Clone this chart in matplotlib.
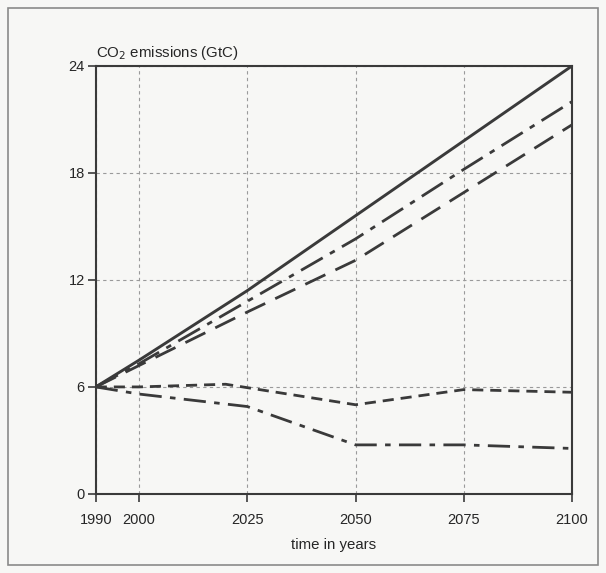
import matplotlib
matplotlib.use('Agg')
import matplotlib.pyplot as plt
from matplotlib.patches import Rectangle

# scenario paths (GtC per year)
years_main = [1990, 2000, 2025, 2050, 2075, 2100]
solid = [6.0, 7.5, 11.4, 15.6, 19.8, 24.0]
dashdot_high = [6.0, 7.3, 10.8, 14.3, 18.2, 22.0]
dashed_long = [6.0, 7.2, 10.2, 13.1, 16.9, 20.7]

years_flat = [1990, 2000, 2020, 2050, 2075, 2100]
dashed_short = [6.0, 6.0, 6.15, 5.0, 5.85, 5.7]

years_low = [1990, 2000, 2025, 2050, 2075, 2100]
dashdot_low = [6.0, 5.6, 4.9, 2.75, 2.75, 2.55]

x_ticks = [1990, 2000, 2025, 2050, 2075, 2100]
y_ticks = [0, 6, 12, 18, 24]

plt.rcParams['font.family'] = ['Liberation Sans', 'DejaVu Sans']
ink = '#3a3a3a'
text_ink = '#262626'
paper = '#f7f7f5'

fig = plt.figure(figsize=(6.06, 5.73), dpi=100, facecolor=paper)
fig.patches.append(Rectangle((0.013, 0.014), 0.974, 0.972, transform=fig.transFigure,
                             fill=False, edgecolor='#8a8a8a', linewidth=1.2))
ax = fig.add_axes([0.158, 0.138, 0.786, 0.747])
ax.set_facecolor(paper)

ax.plot(years_main, solid, color=ink, linewidth=2.1, linestyle='-')
ax.plot(years_main, dashdot_high, color=ink, linewidth=2.0, linestyle=(0, (9, 3, 2, 3)))
ax.plot(years_main, dashed_long, color=ink, linewidth=2.0, linestyle=(0, (8, 4)))
ax.plot(years_flat, dashed_short, color=ink, linewidth=2.0, linestyle=(0, (4, 2.5)))
ax.plot(years_low, dashdot_low, color=ink, linewidth=2.0, linestyle=(0, (8, 3, 2, 3)))

ax.set_xlim(1990, 2100)
ax.set_ylim(0, 24)
ax.set_xticks(x_ticks)
ax.set_yticks(y_ticks)
ax.grid(True, color='#9a9a9a', linestyle=(0, (3, 3)), linewidth=0.8)
for s in ax.spines.values():
    s.set_color(ink)
    s.set_linewidth(1.5)
ax.tick_params(direction='out', length=6, width=1.2, color=ink, labelcolor=text_ink,
               labelsize=10.5, pad=2)
ax.tick_params(axis='x', pad=8)

ax.text(0.0, 1.008, 'CO$_2$ emissions (GtC)', transform=ax.transAxes,
        ha='left', va='bottom', fontsize=10.8, color=text_ink)
ax.set_xlabel('time in years', fontsize=10.8, color=text_ink, labelpad=8)

fig.savefig('out.png', dpi=100, facecolor=paper)
